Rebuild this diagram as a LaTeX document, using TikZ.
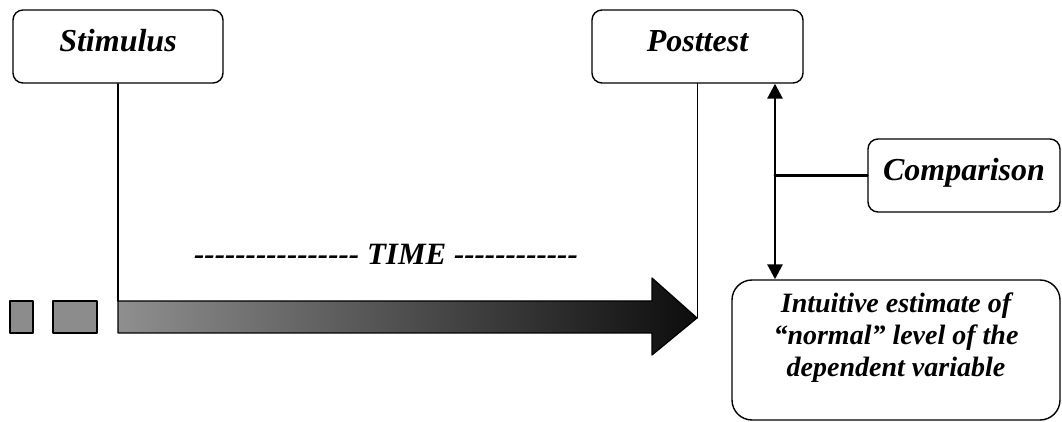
\documentclass[tikz,border=0pt]{standalone}
\usepackage{fontspec}
\newfontfamily\timesbi{Liberation Serif}
\usetikzlibrary{arrows.meta}

\begin{document}
\begin{tikzpicture}[x=0.5pt,y=-0.5pt,line cap=round,line join=round,>={Triangle[width=7.5pt,length=7.5pt]},
	box/.style={draw,line width=0.7pt,rounded corners=5pt,minimum width=105pt,minimum height=36.5pt,inner sep=0pt,
		font=\timesbi\bfseries\itshape\fontsize{16}{19}\selectfont,text height=11pt,text depth=5.5pt},
	bigbox/.style={draw,line width=0.7pt,rounded corners=10pt,minimum width=164pt,minimum height=70pt,inner sep=0pt,
		align=center,font=\timesbi\bfseries\itshape\fontsize{14}{16}\selectfont,text height=37pt,text depth=10pt},
	thin/.style={line width=0.6pt},
	thick/.style={line width=1.4pt},
	block/.style={draw,line width=0.6pt,fill=black!45}]
	\useasboundingbox (0,0) rectangle (1062,422);
	% boxes
	\node[box] (stim) at (118,46.5) {Stimulus};
	\node[box,minimum width=105.5pt] (post) at (697.5,46.5) {Posttest};
	\node[box,minimum width=96pt] (comp) at (964,175.5) {Comparison};
	\node[bigbox] (est) at (896,350) {Intuitive estimate of\\“normal” level of the\\dependent variable};
	% time bar
	\coordinate (barnw) at (118,301);
	\coordinate (tip) at (697,318);
	\coordinate (axis) at (775,0);
	\draw[block] (10,301) rectangle (33,333);
	\draw[block] (53,301) rectangle (97,333);
	\shade[draw=black,line width=0.6pt,left color=black!44,right color=black!95]
		(barnw) -- (652,301) -- (652,278) -- (tip) -- (652,355) -- (652,333) -- (118,333) -- cycle;
	\node[font=\timesbi\bfseries\itshape\fontsize{15.5}{18}\selectfont,anchor=base] (time) at (386,265) {---------------- TIME ------------};
	% connectors
	\draw[thin] (stim.south) -- (stim.south |- barnw);
	\draw[thin] (post.south) -- (post.south |- tip);
	\draw[thick,<->] (post.south -| axis) -- (est.north -| axis);
	\draw[thick] (comp.west -| axis) -- (comp.west);
\end{tikzpicture}
\end{document}
